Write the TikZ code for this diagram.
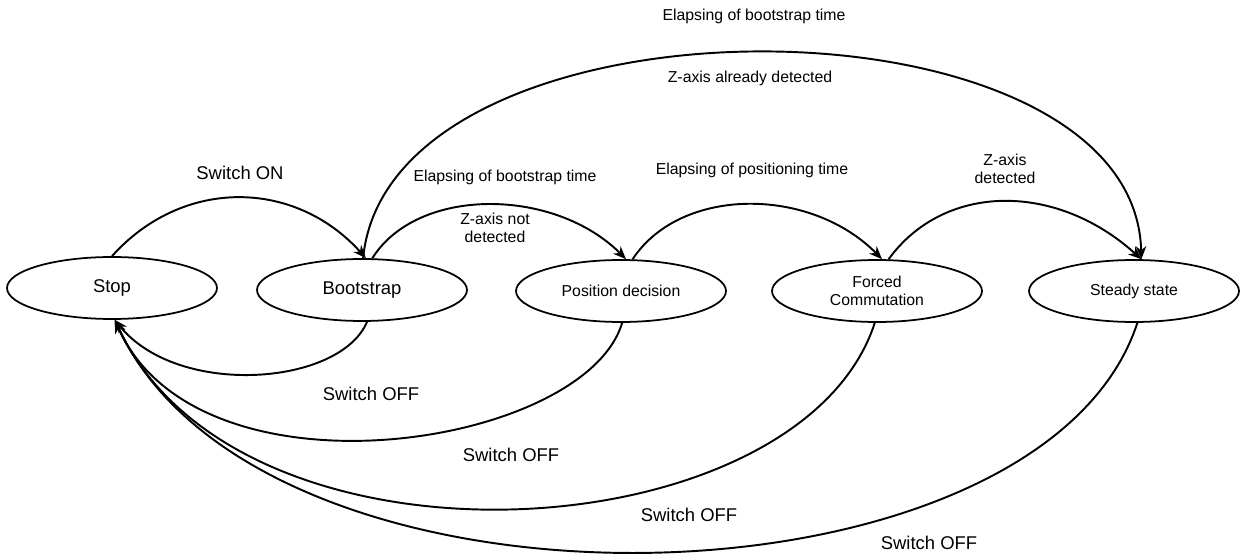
\documentclass[tikz,border=0pt]{standalone}
\usepackage{fontspec}
\setmainfont{Liberation Sans}
\usetikzlibrary{shapes.geometric,arrows.meta}

\tikzset{
  state/.style={draw, ellipse, line width=1pt, minimum width=4.2cm, minimum height=1.24cm, inner sep=0pt, align=center},
  trans/.style={line width=1.1pt, -{Stealth[length=2.6mm,width=2.1mm]}},
  big/.style={font=\fontsize{10.5}{12}\selectfont},
  small/.style={font=\fontsize{9}{10.5}\selectfont, align=center},
}

\begin{document}
\begin{tikzpicture}[x=0.02cm,y=-0.02cm]
\useasboundingbox (0,0) rectangle (1241,560);

% states
\node[state,big] (stop) at (112,288) {Stop};
\node[state,big] (boot) at (362,290) {Bootstrap};
\node[state,small] (pos) at (621,291) {Position decision};
\node[state,small] (forced) at (877,291) {Forced\\Commutation};
\node[state,small] (steady) at (1134,291) {Steady state};

% forward transitions
\draw[trans] (stop.north) .. controls +(71,-79) and +(-71,-79) .. (boot.83);
\draw[trans] (boot.72) .. controls +(45,-72) and +(-72,-72) .. (pos.81);
\draw[trans] (pos.70) .. controls +(48,-73) and +(-72,-73) .. (forced.81);
\draw[trans] (forced.70) .. controls +(56,-77) and +(-85,-77) .. (steady.77);
\draw[trans] (boot.88) .. controls +(27,-276) and +(-6,-274) .. (steady.77);

% switch off, back to stop
\draw[trans] (boot.-81) .. controls +(-27,64) and +(63,78) .. (stop.-85);
\draw[trans] (pos.-88) .. controls +(-37,125) and +(83,188) .. (stop.-85);
\draw[trans] (forced.-94) .. controls +(-75,231) and +(124,268) .. (stop.-85);
\draw[trans] (steady.-84) .. controls +(-97,297) and +(146,318) .. (stop.-85);

% labels
\node[big] (on) at (240,173) {Switch ON};
\node[small] (bt1) at (505,177) {Elapsing of bootstrap time};
\node[small] (nd) at (495,228) {Z-axis not\\detected};
\node[small] (pt) at (752,170) {Elapsing of positioning time};
\node[small] (zd) at (1005,169) {Z-axis\\detected};
\node[small] (bt2) at (754,16) {Elapsing of bootstrap time};
\node[small] (ad) at (750,78) {Z-axis already detected};
\node[big] (off1) at (371,394) {Switch OFF};
\node[big] (off2) at (511,455) {Switch OFF};
\node[big] (off3) at (689,515) {Switch OFF};
\node[big] (off4) at (929,543) {Switch OFF};

\end{tikzpicture}
\end{document}
